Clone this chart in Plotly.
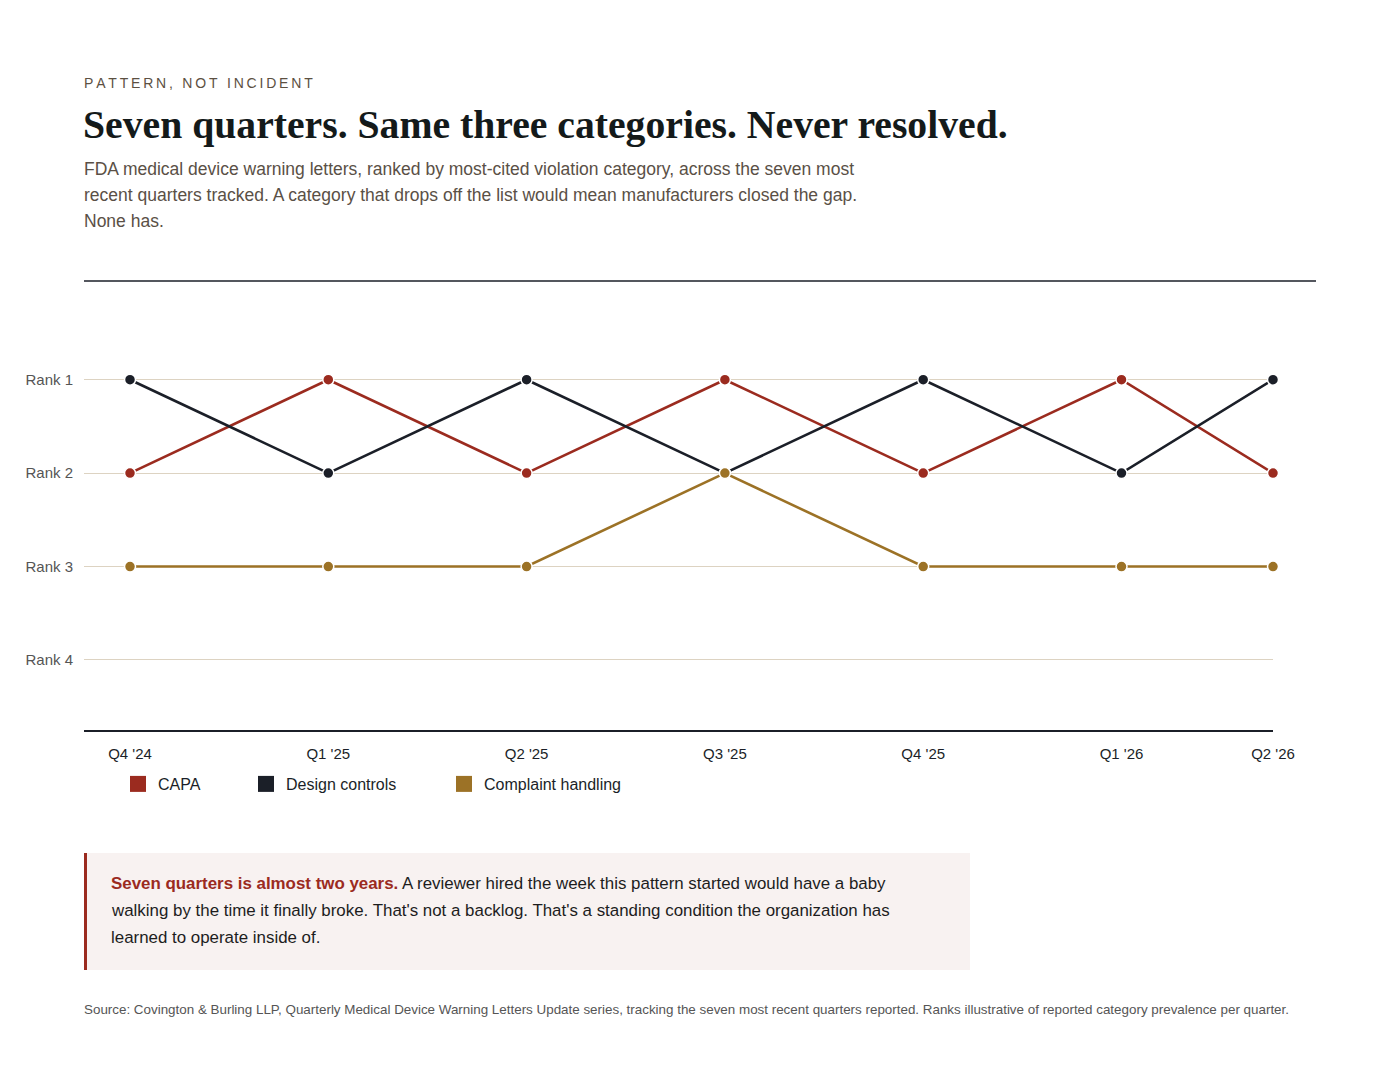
import plotly.graph_objects as go

# data
quarters = ["Q4 '24", "Q1 '25", "Q2 '25", "Q3 '25", "Q4 '25", "Q1 '26", "Q2 '26"]
capa_rank = [2, 1, 2, 1, 2, 1, 2]
design_rank = [1, 2, 1, 2, 1, 2, 1]
complaint_rank = [3, 3, 3, 2, 3, 3, 3]
rank_labels = ["Rank 1", "Rank 2", "Rank 3", "Rank 4"]

colors = {"CAPA": "#9b2b1f", "Design controls": "#1b1f28", "Complaint handling": "#9c7226"}
SANS = "Liberation Sans, Arial, sans-serif"

# page geometry (page has an 8px body margin)
W, H, OFF = 1384, 1068, 8
L, R, T, B = 76, 1265, 325, 722

# x scale: one step per quarter, last quarter pinned to the end of the axis
X_MIN, X_MAX = -0.232, 5.764
xpos = [min(i, X_MAX) for i in range(len(quarters))]


def pap(x, y):
    return (x - OFF - L) / (R - L), (B - (y - OFF)) / (B - T)


fig = go.Figure()
for name, ranks in [("CAPA", capa_rank), ("Design controls", design_rank),
                    ("Complaint handling", complaint_rank)]:
    fig.add_trace(go.Scatter(
        x=xpos, y=ranks, name=name, mode="lines+markers", showlegend=False,
        line=dict(color=colors[name], width=2.6),
        marker=dict(size=11, color=colors[name], line=dict(color="white", width=1.5)),
        cliponaxis=False,
    ))

# legend swatches, one legend box per entry so the gaps match
legend_x = {"CAPA": 118, "Design controls": 246, "Complaint handling": 444}
legend_ids = {"CAPA": "legend", "Design controls": "legend2", "Complaint handling": "legend3"}
legends = {}
for name in colors:
    fig.add_trace(go.Scatter(
        x=[None], y=[None], name=name, mode="markers", legend=legend_ids[name],
        marker=dict(symbol="square", size=16, color=colors[name]),
    ))
    lx, ly = pap(legend_x[name], 784)
    legends[legend_ids[name]] = dict(
        orientation="h", x=lx, xanchor="left", y=ly, yanchor="middle",
        font=dict(size=16, color="#1b1f28"), itemsizing="trace",
        itemclick=False, itemdoubleclick=False, bgcolor="rgba(0,0,0,0)")

fig.update_layout(
    width=W, height=H,
    margin=dict(l=L, r=W - R, t=T, b=H - B),
    paper_bgcolor="white", plot_bgcolor="white",
    font=dict(family=SANS, color="#222"),
    **legends,
)
fig.update_xaxes(
    range=[X_MIN, X_MAX], tickvals=xpos, ticktext=quarters,
    showgrid=False, zeroline=False, showline=True, linecolor="#1b1f28", linewidth=2,
    ticks="", tickfont=dict(size=15, color="#1b1f28"), ticklabelstandoff=9,
)
fig.update_yaxes(
    range=[4.75, 0.5], tickvals=[1, 2, 3, 4], ticktext=rank_labels,
    showgrid=True, gridcolor="#ddd3c2", gridwidth=1, zeroline=False, showline=False,
    ticks="", tickfont=dict(size=15, color="#555"), ticklabelstandoff=10,
)


def note(x, y, text, size, color, family=SANS):
    xx, yy = pap(x, y)
    fig.add_annotation(x=xx, y=yy, xref="paper", yref="paper", text=text,
                       showarrow=False, xanchor="left", yanchor="middle", align="left",
                       font=dict(size=size, color=color, family=family))


kicker = "\u2009".join("PATTERN, NOT INCIDENT")
note(82, 83, kicker, 14, "#5c5042")
note(81, 125, "<b>Seven quarters. Same three categories. Never resolved.</b>", 39.7,
     "#141a1a", family="Liberation Serif, Times New Roman, serif")
for i, line in enumerate([
        "FDA medical device warning letters, ranked by most-cited violation category, across the seven most",
        "recent quarters tracked. A category that drops off the list would mean manufacturers closed the gap.",
        "None has."]):
    note(82, 169 + i * 26, line, 17.5, "#5a5046")

# callout texts
callout = [
    "<b><span style='color:#9b2b1f'>Seven quarters is almost two years.</span></b> A reviewer hired the week this pattern started would have a baby",
    "walking by the time it finally broke. That's not a backlog. That's a standing condition the organization has",
    "learned to operate inside of.",
]
for i, line in enumerate(callout):
    note(109, 883 + i * 27, line, 16.9, "#1d1d1d")

note(82, 1009, "Source: Covington &amp; Burling LLP, Quarterly Medical Device Warning Letters Update series, "
     "tracking the seven most recent quarters reported. Ranks illustrative of reported category prevalence per quarter.",
     13.4, "#555")

# rule + callout box
x0, y0 = pap(84, 281)
x1, _ = pap(1316, 281)
fig.add_shape(type="line", xref="paper", yref="paper", x0=x0, x1=x1, y0=y0, y1=y0,
              line=dict(color="#1b1f28", width=1.5))
bx0, by1 = pap(84, 853)
bx1, by0 = pap(970, 970)
bl, _ = pap(87, 853)
fig.add_shape(type="rect", xref="paper", yref="paper", layer="below",
              x0=bx0, x1=bx1, y0=by0, y1=by1, fillcolor="#f8f2f1", line=dict(width=0))
fig.add_shape(type="rect", xref="paper", yref="paper",
              x0=bx0, x1=bl, y0=by0, y1=by1, fillcolor="#9b2b1f", line=dict(width=0))

fig.write_html("out.html")
